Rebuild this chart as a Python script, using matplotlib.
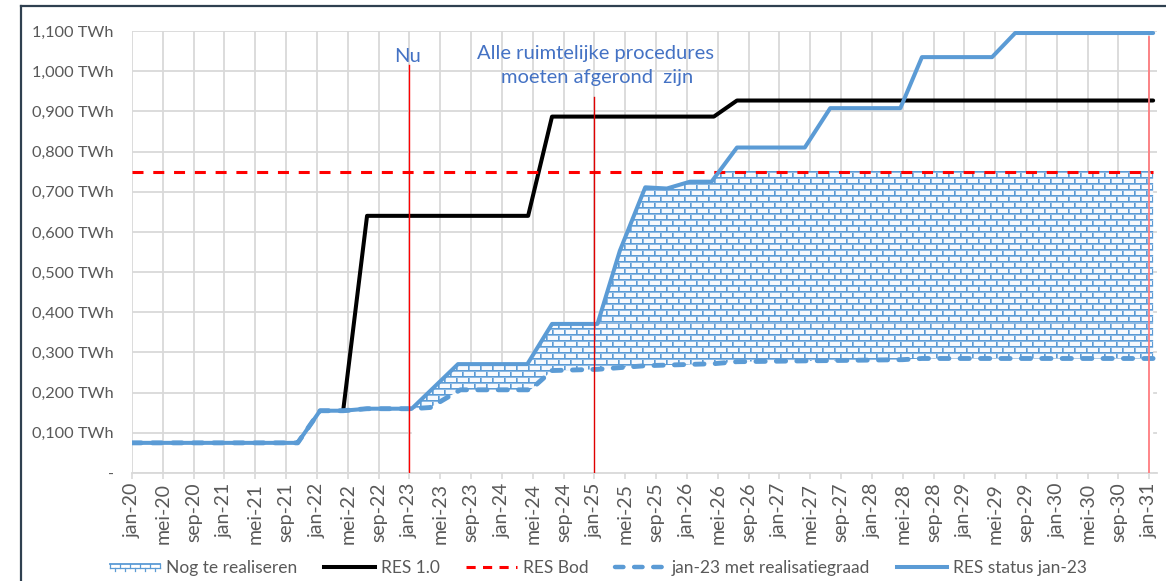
import numpy as np
import matplotlib
matplotlib.use("Agg")
import matplotlib.pyplot as plt
from matplotlib.lines import Line2D
from matplotlib.patches import Polygon, Patch
from matplotlib.legend_handler import HandlerBase

plt.rcParams['font.family'] = ['Lato', 'DejaVu Sans']

# ---------------- data (x = months since jan-20) ----------------
status_x = [0, 21.5, 24.4, 27.4, 30.5, 36.3, 42.3, 51.3, 54.5, 60.4, 63.3, 66.6,
            69.4, 72.4, 75.2, 78.5, 87.3, 90.6, 99.7, 102.5, 111.6, 114.6, 132.5]
status_y = [0.075, 0.075, 0.155, 0.155, 0.16, 0.16, 0.271, 0.271, 0.371, 0.371, 0.553, 0.711,
            0.708, 0.725, 0.725, 0.810, 0.810, 0.908, 0.908, 1.035, 1.035, 1.095, 1.095]

res10_x = [27.4, 30.5, 51.4, 54.5, 75.5, 78.5, 132.5]
res10_y = [0.155, 0.640, 0.640, 0.887, 0.887, 0.927, 0.927]

real_x = [0, 21.5, 24.4, 27.4, 30.5, 36.3, 38.7, 42.6, 51.7, 54.5, 60.4, 66.6,
          75.5, 78.5, 100.0, 102.5, 132.5]
real_y = [0.075, 0.075, 0.155, 0.155, 0.16, 0.16, 0.163, 0.207, 0.207, 0.255, 0.258, 0.267,
          0.272, 0.277, 0.282, 0.285, 0.285]

res_bod = 0.75
bod_x = [0, 132.5]

nu_month = 36          # jan-23
deadline_month = 60    # jan-25
end_month = 132        # jan-31
white_start = 36.3

tick_pos = list(range(0, 133, 4))
tick_labels = [f"{m}-{20 + (p // 12)}" for p, m in
               zip(tick_pos, ['jan', 'mei', 'sep'] * 12)]
ytick_vals = [i / 10 for i in range(0, 12)]
ytick_labels = ['-'] + [f"{v:.3f}".replace('.', ',') + ' TWh' if v < 1 else
                        '1,' + f"{v:.3f}"[2:] + ' TWh' for v in ytick_vals[1:]]

legend_labels = ['Nog te realiseren', 'RES 1.0', 'RES Bod',
                 'jan-23 met realisatiegraad', 'RES status jan-23']

# ---------------- styling ----------------
BLUE = '#5B9BD5'
TXTBLUE = '#4472C4'
GREY = '#595959'
GRID = '#D9D9D9'

W_PX, H_PX = 1166, 581
fig = plt.figure(figsize=(W_PX / 100, H_PX / 100), dpi=100)
ax_l, ax_r, ax_t, ax_b = 132, 1157, 31, 473
ax = fig.add_axes([ax_l / W_PX, 1 - ax_b / H_PX, (ax_r - ax_l) / W_PX, (ax_b - ax_t) / H_PX])

XMAX = 133.0
YMAX = 1.1
ax.set_xlim(0, XMAX)
ax.set_ylim(0, YMAX)

for s in ax.spines.values():
    s.set_visible(False)
ax.spines['bottom'].set_visible(True)
ax.spines['bottom'].set_color(GRID)
ax.spines['bottom'].set_linewidth(1.3)

ax.set_xticks(tick_pos)
ax.set_xticklabels(tick_labels, rotation=90, fontsize=14, color=GREY)
ax.set_yticks(ytick_vals)
ax.set_yticklabels(ytick_labels, fontsize=11.8, color=GREY)
ax.tick_params(axis='x', length=4, color=GRID, width=1.2, pad=3)
ax.tick_params(axis='y', length=0, pad=13)
ax.grid(True, color=GRID, linewidth=1.3, zorder=0)
ax.set_axisbelow(True)

# white area under the realisation line from jan-23
wx = np.array(real_x)
wy = np.array(real_y)
m = wx >= white_start
ax.fill_between(wx[m], 0, wy[m], facecolor='white', edgecolor='none', zorder=1.5)

# brick hatch image, clipped to area between realisation line and status line, capped at RES Bod
img_w = ax_r - ax_l
img_h = int(round(res_bod / YMAX * (ax_b - ax_t)))
img = np.ones((img_h, img_w, 3)) * (np.array([0xF6, 0xF9, 0xFD]) / 255)
blue_rgb = np.array([0x5B, 0x9B, 0xD5]) / 255
light_rgb = np.array([0x8D, 0xB9, 0xE3]) / 255
cols = np.arange(img_w)
for r in range(img_h):
    band = r // 6
    if r % 6 == 0:
        img[r, :, :] = blue_rgb
    elif r % 6 == 1:
        img[r, :, :] = light_rgb
    else:
        off = (band % 2) * 6
        img[r, (cols + off) % 12 == 0, :] = blue_rgb
        img[r, (cols + off) % 12 == 1, :] = light_rgb
im = ax.imshow(img, extent=(0, XMAX, 0, res_bod), aspect='auto',
               interpolation='nearest', origin='upper', zorder=1.8)
poly_xy = np.column_stack([np.concatenate([status_x, real_x[::-1]]),
                           np.concatenate([status_y, real_y[::-1]])])
clip_poly = Polygon(poly_xy, closed=True, transform=ax.transData)
im.set_clip_path(clip_poly)
ax.set_xlim(0, XMAX)
ax.set_ylim(0, YMAX)

# lines
ax.plot(res10_x, res10_y, color='black', lw=2.9, solid_joinstyle='round',
        solid_capstyle='round', zorder=3)
ax.plot(bod_x, [res_bod, res_bod], color='#FF0000', lw=2.2, dashes=(3.6, 3.2), zorder=3.2)
ax.plot(real_x, real_y, color=BLUE, lw=3.5, dashes=(1.9, 2.3), dash_capstyle='round',
        zorder=3.4)
ax.plot(status_x, status_y, color=BLUE, lw=2.9, solid_joinstyle='round',
        solid_capstyle='round', zorder=3.6)

# vertical marker lines
ax.plot([nu_month, nu_month], [0, 1.015], color='#FF0000', lw=1.0, zorder=4)
ax.plot([deadline_month, deadline_month], [0, 0.935], color='#E00000', lw=1.0, zorder=4)
ax.plot([end_month, end_month], [0, 1.085], color='#FF7C80', lw=1.3, zorder=4)

ax.text(nu_month - 0.25, 1.023, 'Nu', color=TXTBLUE, fontsize=14.5, ha='center', va='baseline')
ax.text(deadline_month + 0.2, 1.031, 'Alle ruimtelijke procedures',
        color=TXTBLUE, fontsize=14.5, ha='center', va='baseline')
ax.text(deadline_month + 0.3, 0.971, 'moeten afgerond  zijn',
        color=TXTBLUE, fontsize=14.5, ha='center', va='baseline')

# chart border (left and top)
fig.add_artist(Line2D([21 / W_PX, 21 / W_PX], [0, 1 - 6 / H_PX], transform=fig.transFigure,
                      color='#2F4050', lw=1.6))
fig.add_artist(Line2D([21 / W_PX, 1], [1 - 6 / H_PX, 1 - 6 / H_PX], transform=fig.transFigure,
                      color='#2F4050', lw=1.6))


class BrickHandler(HandlerBase):
    def create_artists(self, legend, orig_handle, xdescent, ydescent, width, height,
                       fontsize, trans):
        x0 = -xdescent
        y0 = -ydescent
        yt = y0 + height * 0.72
        ym = y0 + height * 0.42
        yb = y0 + height * 0.15
        arts = [Line2D([x0, x0 + width], [yt, yt], color=BLUE, lw=1.3, transform=trans),
                Line2D([x0, x0 + width], [ym, ym], color=BLUE, lw=0.9, transform=trans)]
        n = 5
        for i in range(n + 1):
            xv = x0 + width * i / n
            arts.append(Line2D([xv, xv], [ym, yt], color=BLUE, lw=0.9, transform=trans))
            if i < n:
                xv2 = x0 + width * (i + 0.5) / n
                arts.append(Line2D([xv2, xv2], [yb, ym], color=BLUE, lw=0.9, transform=trans))
        return arts


def make_handles():
    return [Patch(facecolor='white', edgecolor=BLUE),
            Line2D([], [], color='black', lw=2.9),
            Line2D([], [], color='#FF0000', lw=2.2, dashes=(3.0, 2.4)),
            Line2D([], [], color=BLUE, lw=3.2, dashes=(1.9, 2.4), dash_capstyle='round'),
            Line2D([], [], color=BLUE, lw=2.9)]


LEG_FS = 12.5
leg_left, leg_right, leg_y = 110, 1087, 568


def build_legend(colsp):
    lg = fig.legend(make_handles(), legend_labels, loc='center left',
                    bbox_to_anchor=(leg_left / W_PX, 1 - leg_y / H_PX),
                    ncol=5, frameon=False, handlelength=2.9, handletextpad=0.35,
                    columnspacing=colsp, borderpad=0, borderaxespad=0,
                    prop={'family': ['Lato', 'DejaVu Sans'], 'size': LEG_FS},
                    handler_map={Patch: BrickHandler()})
    for t in lg.get_texts():
        t.set_color(GREY)
    return lg


colsp = 1.85
leg = build_legend(colsp)
fig.canvas.draw()
bb = leg.get_window_extent()
fs_px = LEG_FS * 100 / 72
colsp = colsp + ((leg_right - leg_left) - bb.width) / 4 / fs_px
leg.remove()
leg = build_legend(colsp)

fig.savefig('out.png', dpi=100, facecolor='white')
